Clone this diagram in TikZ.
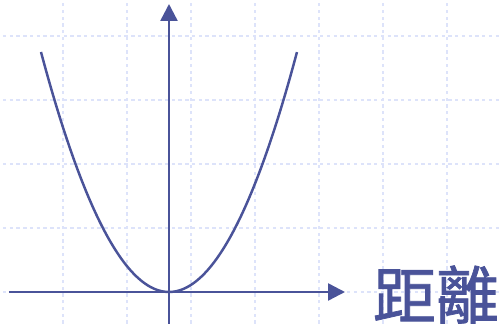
\documentclass[tikz,border=0pt]{standalone}
\usepackage{fontspec}
\newfontfamily\cjk[FakeBold=1.2]{Noto Sans CJK TC}
\usetikzlibrary{arrows.meta}
\definecolor{axisblue}{HTML}{4A5399}
\definecolor{gridblue}{HTML}{DDE3FA}

\begin{document}
\begin{tikzpicture}[x=1cm,y=1cm]
	\useasboundingbox (-2.640625,-0.53125) rectangle (5.171875,4.5625);
	\begin{scope}
		\foreach \gx in {-2.656,-1.656,-0.656,0.344,1.344,2.344,3.344,4.344}
			\draw[color=gridblue, line width=0.8pt, dash pattern=on 1.5pt off 1.5pt] (\gx,-0.6) -- (\gx,4.6);
		\foreach \gy in {0,1,2,3,4}
			\draw[color=gridblue, line width=0.8pt, dash pattern=on 1.5pt off 1.5pt] (-2.7,\gy) -- (5.2,\gy);
	\end{scope}
	\coordinate (xstart) at (-2.5,0);
	\coordinate (xend) at (2.75,0);
	\coordinate (ystart) at (0,-0.5);
	\coordinate (yend) at (0,4.5);
	\draw[line width=1.1pt, color=axisblue, -{Triangle[width=7.5pt,length=7.5pt]}] (xstart) -- (xend);
	\draw[line width=1.1pt, color=axisblue, -{Triangle[width=7.5pt,length=7.5pt]}] (ystart) -- (yend);
	\draw[line width=1.1pt, color=axisblue, domain=-2:2, samples=80, smooth] plot (\x,{0.9375*\x*\x});
	\node[color=axisblue, font=\cjk\fontsize{28}{30}\selectfont] (dist) at (4.17,-0.04) {距離};
\end{tikzpicture}
\end{document}
